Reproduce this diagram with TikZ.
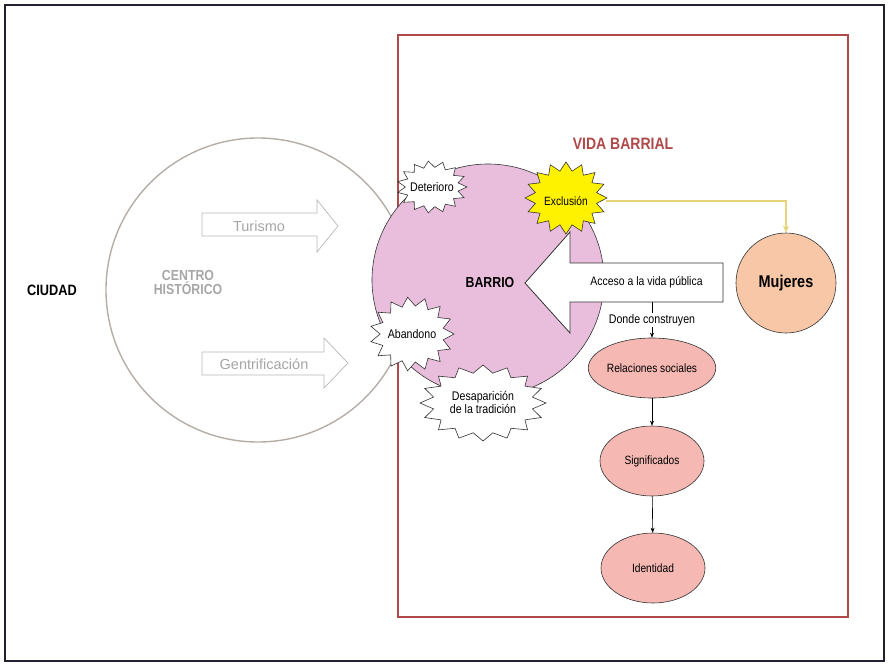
\documentclass[tikz,border=0pt]{standalone}
\usepackage{fontspec}
\setmainfont{Liberation Sans}[FakeStretch=0.85]
\newfontfamily\regfont{Liberation Sans}
\usetikzlibrary{arrows.meta,shapes.geometric}
\definecolor{framec}{HTML}{22222E}
\definecolor{redc}{HTML}{B04A4A}
\definecolor{grayline}{HTML}{B4ADA6}
\definecolor{graytext}{HTML}{A6A6A6}
\definecolor{pinkc}{HTML}{E9BEDC}
\definecolor{salmonc}{HTML}{F5B8B2}
\definecolor{peachc}{HTML}{F8C7A8}
\definecolor{yellowc}{HTML}{FFF200}
\definecolor{ylinec}{HTML}{E6D47A}
\definecolor{outc}{HTML}{333333}
\newcommand\myburst[7]{%
  \pgfmathtruncatemacro\mylast{#5-1}%
  \draw[#7] ([shift={(#1,#2)}]0:{#3} and {#4})
    \foreach \i [evaluate=\i as \rr using {isodd(\i) ? #6 : 1}] in {1,...,\mylast} {
      -- ([shift={(#1,#2)}]{\i*360/#5}:{\rr*#3} and {\rr*#4})
    } -- cycle;}
\begin{document}
\begin{tikzpicture}[x=1pt,y=-1pt,
  lbl/.style={font=\fontsize{12.5}{13}\selectfont, text=black, inner sep=1pt},
  grayarrow/.style={draw=graytext!80, line width=0.7pt, fill=white},
  graylbl/.style={font=\regfont\fontsize{14.5}{16}\selectfont, text=graytext},
  burststyle/.style={draw=outc, line width=0.6pt, fill=white},
  conn/.style={draw=black, line width=0.6pt, -{Stealth[length=5pt,width=4pt]}},
  ell/.style={ellipse, draw=outc, line width=0.6pt, fill=salmonc, minimum width=104pt, inner sep=0pt, font=\fontsize{12}{14}\selectfont}]
\useasboundingbox (0,0) rectangle (889,666);
% outer frame
\draw[framec, line width=2pt] (5,5) rectangle (884,661);
% gray circle
\node[circle, draw=grayline, line width=1.4pt, minimum size=304pt, inner sep=0pt] (centro) at (258,290) {};
% red rectangle
\draw[redc, line width=1.4pt] (398,35) rectangle (848,617);
% barrio circle
\node[circle, draw=outc, line width=0.6pt, fill=pinkc, minimum size=232pt, inner sep=0pt] (barrio) at (488,280) {};
\node[font=\bfseries\fontsize{14.5}{16}\selectfont] (barriolbl) at (490,283) {BARRIO};
% labels
\node[font=\bfseries\fontsize{15}{16}\selectfont] (ciudad) at (52,290) {CIUDAD};
\node[font=\bfseries\fontsize{14.5}{15}\selectfont, text=graytext, align=center] (centrolbl) at (188,283) {CENTRO\\[-1pt]HISTÓRICO};
\node[font=\bfseries\fontsize{16.5}{18}\selectfont, text=redc] (vida) at (623,144) {VIDA BARRIAL};
% gray arrows
\draw[grayarrow] (202,213) -- (317,213) -- (317,200) -- (338,226) -- (317,252) -- (317,236) -- (202,236) -- cycle;
\node[graylbl] (tur) at (259,226) {Turismo};
\draw[grayarrow] (202,352) -- (324,352) -- (324,338) -- (348,363) -- (324,388) -- (324,375) -- (202,375) -- cycle;
\node[graylbl] (gen) at (264,364) {Gentrificación};
% bursts
\myburst{432}{187}{35}{26}{30}{0.76}{burststyle}
\node[lbl] (det) at (432,187) {Deterioro};
\myburst{412}{334}{42}{37}{30}{0.76}{burststyle}
\node[lbl] (aba) at (412,334) {Abandono};
\myburst{483}{403}{63}{38}{32}{0.8}{burststyle}
\node[lbl, align=center] (des) at (483,402) {Desaparición\\[0pt]de la tradición};
\myburst{566}{198}{41}{36}{32}{0.76}{burststyle, fill=yellowc}
\node[ellipse, minimum width=80pt, minimum height=70pt, inner sep=0pt, font=\fontsize{12}{14}\selectfont] (excl) at (566,201) {Exclusión};
% big white arrow
\draw[draw=outc, line width=0.8pt, fill=white] (723,263) -- (570,263) -- (570,232) -- (525,283) -- (570,333) -- (570,302) -- (723,302) -- cycle;
\node[minimum width=153pt, minimum height=39pt, inner sep=0pt, font=\fontsize{12.3}{14}\selectfont] (acc) at (646.5,282.5) {Acceso a la vida pública};
% mujeres
\node[circle, draw=outc, line width=0.6pt, fill=peachc, minimum size=100pt, inner sep=0pt, font=\bfseries\fontsize{17}{18}\selectfont] (muj) at (786,283) {Mujeres};
% ellipses
\node[ell, minimum height=60pt] (rel) at (652,368) {Relaciones sociales};
\node[ell, minimum height=70pt] (sig) at (652,461) {Significados};
\node[ell, minimum height=70pt] (ide) at (653,568) {Identidad};
% connectors
\draw[ylinec, line width=1.5pt, -{Stealth[length=7pt,width=6pt]}] (excl.east) -| (muj.north);
\draw[conn] (acc.south -| rel.north) -- node[fill=white, font=\fontsize{12.5}{13}\selectfont, inner sep=1.5pt] (donde) {Donde construyen} (rel.north);
\draw[conn] (rel) -- (sig);
\draw[conn] (sig) -- (ide);
\end{tikzpicture}
\end{document}
